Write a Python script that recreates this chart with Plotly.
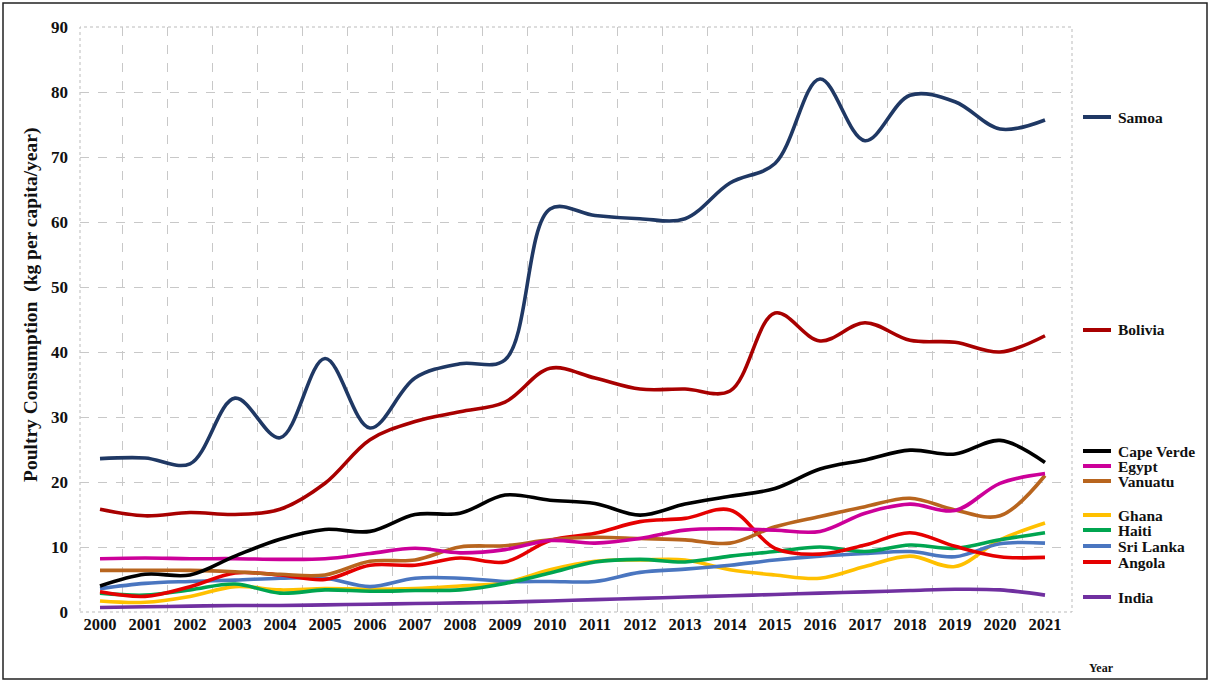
import plotly.graph_objects as go

years = list(range(2000, 2022))

samoa = [23.6, 23.7, 22.8, 32.9, 26.8, 39.0, 28.3, 36.0, 38.2, 38.8, 62.0, 61.0, 60.5, 60.5, 66.0, 69.0, 82.0, 72.5, 79.5, 78.5, 74.3, 75.7]
bolivia = [15.8, 14.8, 15.3, 15.0, 15.8, 19.8, 26.5, 29.3, 30.8, 32.3, 37.5, 36.0, 34.3, 34.3, 34.0, 46.0, 41.7, 44.5, 41.8, 41.5, 40.0, 42.5]
cape_verde = [4.0, 5.8, 5.7, 8.6, 11.2, 12.7, 12.4, 15.0, 15.2, 18.0, 17.2, 16.7, 14.9, 16.6, 17.8, 19.0, 22.0, 23.4, 24.9, 24.3, 26.4, 23.0]
egypt = [8.2, 8.3, 8.2, 8.2, 8.1, 8.2, 9.0, 9.8, 9.1, 9.6, 11.0, 10.6, 11.3, 12.6, 12.8, 12.6, 12.4, 15.2, 16.6, 15.6, 19.8, 21.3]
vanuatu = [6.4, 6.4, 6.4, 6.2, 5.8, 5.7, 7.8, 8.0, 10.0, 10.2, 11.1, 11.5, 11.3, 11.1, 10.6, 13.1, 14.7, 16.2, 17.5, 15.7, 14.8, 21.0]
ghana = [1.7, 1.5, 2.4, 3.9, 3.4, 3.6, 3.5, 3.6, 4.0, 4.5, 6.5, 7.8, 8.0, 8.0, 6.5, 5.7, 5.2, 7.0, 8.6, 7.0, 11.1, 13.7]
haiti = [2.9, 2.6, 3.4, 4.3, 2.9, 3.4, 3.2, 3.3, 3.4, 4.4, 6.0, 7.7, 8.1, 7.7, 8.6, 9.3, 10.0, 9.3, 10.3, 9.8, 11.1, 12.2]
sri_lanka = [3.6, 4.4, 4.7, 4.9, 5.2, 5.2, 3.9, 5.2, 5.2, 4.7, 4.7, 4.7, 6.1, 6.6, 7.2, 8.0, 8.6, 9.0, 9.3, 8.5, 10.5, 10.6]
angola = [3.1, 2.4, 3.9, 6.0, 5.7, 5.0, 7.2, 7.2, 8.3, 7.7, 11.0, 12.1, 13.9, 14.4, 15.7, 9.8, 8.9, 10.3, 12.2, 10.1, 8.5, 8.4]
india = [0.7, 0.8, 0.9, 1.0, 1.0, 1.1, 1.2, 1.3, 1.4, 1.5, 1.7, 1.9, 2.1, 2.3, 2.5, 2.7, 2.9, 3.1, 3.3, 3.5, 3.4, 2.6]

series_names = ["Samoa", "Bolivia", "Cape Verde", "Egypt", "Vanuatu", "Ghana", "Haiti", "Sri Lanka", "Angola", "India"]
series_values = [samoa, bolivia, cape_verde, egypt, vanuatu, ghana, haiti, sri_lanka, angola, india]
series_colors = ["#1f3864", "#a80000", "#000000", "#cc0099", "#b8651e", "#ffc000", "#00a550", "#4a76c0", "#e50000", "#7030a0"]
# legend label pixel rows (y position in image)
legend_rows = [117, 330, 451, 466, 481, 515, 530, 546, 562, 597]

# plot-area geometry in pixels
L, R, T, B = 80, 1072, 27, 612
W, H = R - L, B - T

def px_x(px):
    return (px - L) / W

def px_y(py):
    return (B - py) / H

FONT = "Liberation Serif"

fig = go.Figure()
draw_order = [9, 5, 7, 6, 8, 4, 3, 2, 1, 0]
for i in draw_order:
    fig.add_trace(go.Scatter(
        x=years, y=series_values[i], name=series_names[i], mode="lines",
        line=dict(color=series_colors[i], width=3.6, shape="spline", smoothing=1.0),
        showlegend=False,
    ))

shapes = []
annotations = []
for name, color, row in zip(series_names, series_colors, legend_rows):
    shapes.append(dict(type="line", xref="paper", yref="paper",
                       x0=px_x(1083), x1=px_x(1111), y0=px_y(row), y1=px_y(row),
                       line=dict(color=color, width=4)))
    annotations.append(dict(xref="paper", yref="paper", x=px_x(1116), y=px_y(row),
                            text=name, showarrow=False, xanchor="left", yanchor="middle",
                            font=dict(family=FONT, size=15.5, color="#111", weight="bold")))

# plot area dotted frame
shapes.append(dict(type="rect", xref="paper", yref="paper", x0=0, x1=1, y0=0, y1=1,
                   line=dict(color="#bbbbbb", width=1, dash="dot"), layer="below"))
# outer image border
shapes.append(dict(type="rect", xref="paper", yref="paper",
                   x0=px_x(3), x1=px_x(1207), y0=px_y(679), y1=px_y(3),
                   line=dict(color="#222222", width=1.5)))

annotations.append(dict(xref="paper", yref="paper", x=px_x(31), y=px_y(305),
                        text="Poultry Consumption  (kg per capita/year)", textangle=-90,
                        showarrow=False, xanchor="center", yanchor="middle",
                        font=dict(family=FONT, size=19.5, color="#111", weight="bold")))
annotations.append(dict(xref="paper", yref="paper", x=px_x(1101), y=px_y(668),
                        text="Year", showarrow=False, xanchor="center", yanchor="middle",
                        font=dict(family=FONT, size=12, color="#111", weight="bold")))

fig.update_layout(
    width=1210, height=680,
    margin=dict(l=L, r=1210 - R, t=T, b=680 - B),
    paper_bgcolor="white", plot_bgcolor="white",
    shapes=shapes, annotations=annotations,
    showlegend=False,
)
fig.update_xaxes(
    range=[2000 - 20 / 45, 2021 + 27 / 45],
    tickvals=years, ticktext=[str(y) for y in years],
    showgrid=False, zeroline=False, showline=False, ticks="",
    tickfont=dict(family=FONT, size=16.5, color="#111", weight="bold"),
    minor=dict(tickvals=[y + 0.5 for y in years[:-1]], showgrid=True,
               gridcolor="#c8c8c8", griddash="dash", gridwidth=1, ticks=""),
)
fig.update_yaxes(
    range=[0, 90], tickvals=list(range(0, 91, 10)),
    showgrid=True, gridcolor="#c8c8c8", griddash="dash", gridwidth=1,
    zeroline=False, showline=False, ticks="", ticklabelstandoff=11,
    tickfont=dict(family=FONT, size=17, color="#111", weight="bold"),
)

fig.write_html("out.html", config={"displayModeBar": False},
               post_script="document.body.style.margin='0';")
